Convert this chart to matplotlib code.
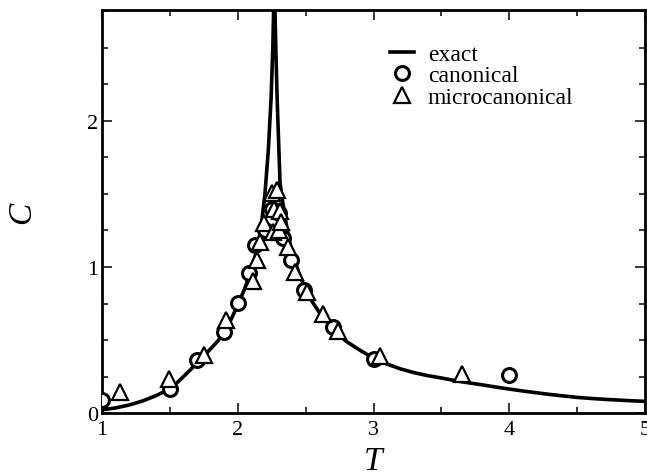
import numpy as np
import matplotlib
matplotlib.use('Agg')
import matplotlib.pyplot as plt
from matplotlib.ticker import MultipleLocator

# exact curve
exact_T = [1.0, 1.1, 1.2, 1.3, 1.4, 1.5, 1.55, 1.6, 1.65, 1.7, 1.75, 1.8,
           1.85, 1.9, 1.95, 2.0, 2.05, 2.1, 2.15, 2.175, 2.2, 2.225, 2.245,
           2.258, 2.265, 2.269, 2.273, 2.28, 2.29, 2.311, 2.33, 2.35, 2.375,
           2.4, 2.45, 2.5, 2.55, 2.6, 2.65, 2.7, 2.75, 2.8, 2.9, 3.0, 3.1,
           3.2, 3.3, 3.4, 3.5, 3.6, 3.7, 3.8, 3.9, 4.0, 4.1, 4.2, 4.3, 4.4,
           4.5, 4.6, 4.7, 4.8, 4.9, 5.0]
exact_C = [0.022, 0.035, 0.055, 0.083, 0.12, 0.165, 0.205, 0.25, 0.295,
           0.345, 0.39, 0.44, 0.49, 0.55, 0.64, 0.74, 0.85, 0.98, 1.15, 1.3,
           1.5, 1.8, 2.15, 2.5, 2.8, 3.2, 2.8, 2.5, 2.15, 1.58, 1.45, 1.33,
           1.2, 1.1, 0.96, 0.84, 0.76, 0.69, 0.63, 0.58, 0.53, 0.49, 0.43,
           0.375, 0.335, 0.302, 0.276, 0.256, 0.24, 0.222, 0.207, 0.193,
           0.178, 0.164, 0.151, 0.139, 0.127, 0.117, 0.107, 0.1, 0.094,
           0.089, 0.084, 0.08]

# canonical simulation
can_T = [1.0, 1.5, 1.7, 1.9, 2.0, 2.08, 2.13, 2.2, 2.25, 2.3, 2.33, 2.39,
         2.49, 2.7, 3.0, 4.0]
can_C = [0.09, 0.165, 0.36, 0.555, 0.755, 0.96, 1.15, 1.25, 1.40, 1.37,
         1.20, 1.05, 0.84, 0.59, 0.37, 0.26]

# microcanonical simulation
mic_T = [1.13, 1.49, 1.75, 1.91, 2.11, 2.14, 2.165, 2.19, 2.25, 2.29, 2.27,
         2.31, 2.26, 2.30, 2.32, 2.37, 2.42, 2.51, 2.63, 2.74, 3.05, 3.65]
mic_C = [0.145, 0.235, 0.40, 0.64, 0.905, 1.05, 1.17, 1.30, 1.51, 1.53, 1.40,
         1.385, 1.24, 1.25, 1.31, 1.14, 0.965, 0.83, 0.68, 0.565, 0.39, 0.27]

plt.rcParams['font.family'] = ['Liberation Serif', 'DejaVu Serif']

fig = plt.figure(figsize=(6.47, 4.77), dpi=100)
ax = fig.add_axes([0.1577, 0.132, 0.8393, 0.845])

ax.plot(exact_T, exact_C, color='black', lw=2.6, label='exact', zorder=2)
ax.plot(can_T, can_C, ls='none', marker='o', ms=10, mew=2.2, mec='black',
        mfc='white', label='canonical', zorder=3)
ax.plot(mic_T, mic_C, ls='none', marker='^', ms=11, mew=1.6, mec='black',
        mfc='white', label='microcanonical', zorder=4)

ax.set_xlim(1, 5)
ax.set_ylim(0, 2.76)
ax.xaxis.set_major_locator(MultipleLocator(1))
ax.xaxis.set_minor_locator(MultipleLocator(0.5))
ax.yaxis.set_major_locator(MultipleLocator(1))
ax.yaxis.set_minor_locator(MultipleLocator(0.25))
ax.tick_params(which='both', direction='in', top=True, right=True,
               width=1.1, labelsize=16)
ax.tick_params(which='major', length=7)
ax.tick_params(which='minor', length=4)
ax.tick_params(axis='x', pad=5)
ax.tick_params(axis='y', pad=3)
for s in ax.spines.values():
    s.set_linewidth(2)

ax.set_xlabel('T', fontsize=24, style='italic')
ax.set_ylabel('C', fontsize=24, style='italic')
ax.xaxis.set_label_coords(0.5, -0.08)
ax.yaxis.set_label_coords(-0.12, 0.5)

ax.legend(loc='upper left', bbox_to_anchor=(0.603, 0.907),
          bbox_transform=fig.transFigure, frameon=False, fontsize=17,
          handlelength=1.0, handletextpad=0.6, labelspacing=0.0,
          borderpad=0, borderaxespad=0)

fig.savefig('out.png', dpi=100)
